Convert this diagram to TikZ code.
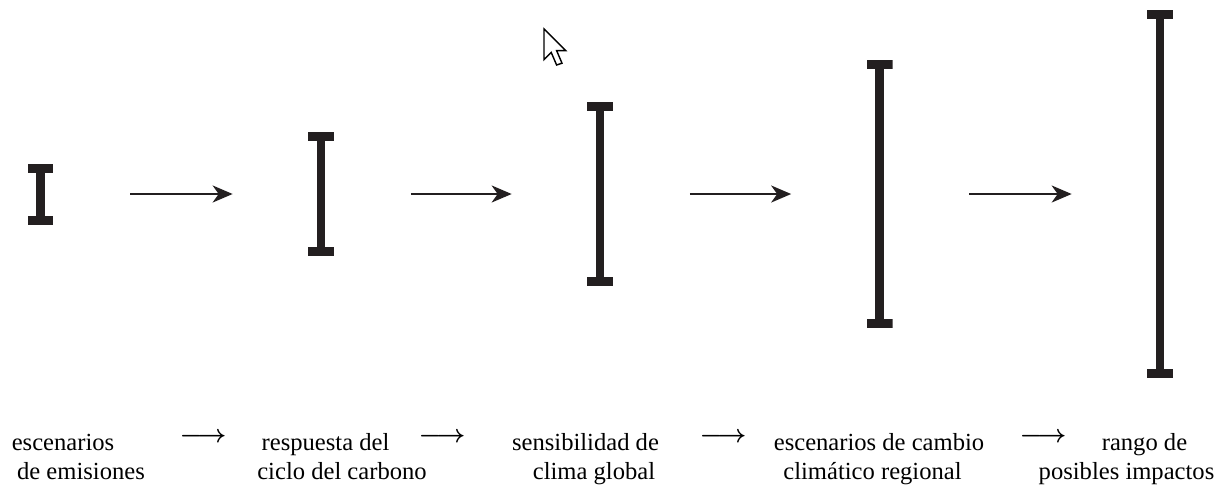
\documentclass[tikz,border=0pt]{standalone}
\usepackage{fontspec}
\setmainfont{Liberation Serif}
\usetikzlibrary{arrows.meta}
\definecolor{barcol}{HTML}{231F20}
\begin{document}
\begin{tikzpicture}[x=0.02cm,y=-0.02cm,font=\fontsize{14}{16}\selectfont,
ibar/.style={inner sep=0pt,minimum width=0.52cm,path picture={
\fill[barcol](path picture bounding box.north west) rectangle ([yshift=-0.18cm]path picture bounding box.north east);
\fill[barcol](path picture bounding box.south west) rectangle ([yshift=0.18cm]path picture bounding box.south east);
\fill[barcol]([xshift=-0.085cm]path picture bounding box.north) rectangle ([xshift=0.085cm]path picture bounding box.south);}},
flow/.style={-{Stealth[length=0.4cm,width=0.34cm,inset=0.12cm]},line width=1.3pt,barcol,shorten <=1.53cm,shorten >=1.5cm},
lbl/.style={anchor=base,inner sep=0pt},
lto/.style={inner sep=0pt,font=\fontsize{14}{16}\selectfont\mathversion{bold}}]
\useasboundingbox (0,0) rectangle (1222,487);
\node[ibar,minimum height=1.22cm] (emis) at (40.5,194) {};
\node[ibar,minimum height=2.48cm] (carb) at (321,194) {};
\node[ibar,minimum height=3.70cm] (sens) at (600,194) {};
\node[ibar,minimum height=5.36cm] (regi) at (879.5,194) {};
\node[ibar,minimum height=7.38cm] (impa) at (1160,194) {};
\draw[flow](emis)--(carb);
\draw[flow](carb)--(sens);
\draw[flow](sens)--(regi);
\draw[flow](regi)--(impa);
\node[lbl] (emis1) at (63,450) {escenarios};
\node[lbl] (emis2) at (81,479) {de emisiones};
\node[lto] (to1) at (203,438) {$\longrightarrow$};
\node[lbl] (carb1) at (325.5,450) {respuesta del};
\node[lbl] (carb2) at (342,479) {ciclo del carbono};
\node[lto] (to2) at (442,438) {$\longrightarrow$};
\node[lbl] (sens1) at (585.5,450) {sensibilidad de};
\node[lbl] (sens2) at (594,479) {clima global};
\node[lto] (to3) at (723,438) {$\longrightarrow$};
\node[lbl] (regi1) at (879,450) {escenarios de cambio};
\node[lbl] (regi2) at (872.5,479) {climático regional};
\node[lto] (to4) at (1043,438) {$\longrightarrow$};
\node[lbl] (impa1) at (1144.5,450) {rango de};
\node[lbl] (impa2) at (1126.5,479) {posibles impactos};
\draw[line width=0.8pt,fill=white,shift={(544,29)},scale=1.8](0,0)--(0,17)--(4,13)--(7,20)--(10,19)--(7,12)--(12,12)--cycle;
\end{tikzpicture}
\end{document}
